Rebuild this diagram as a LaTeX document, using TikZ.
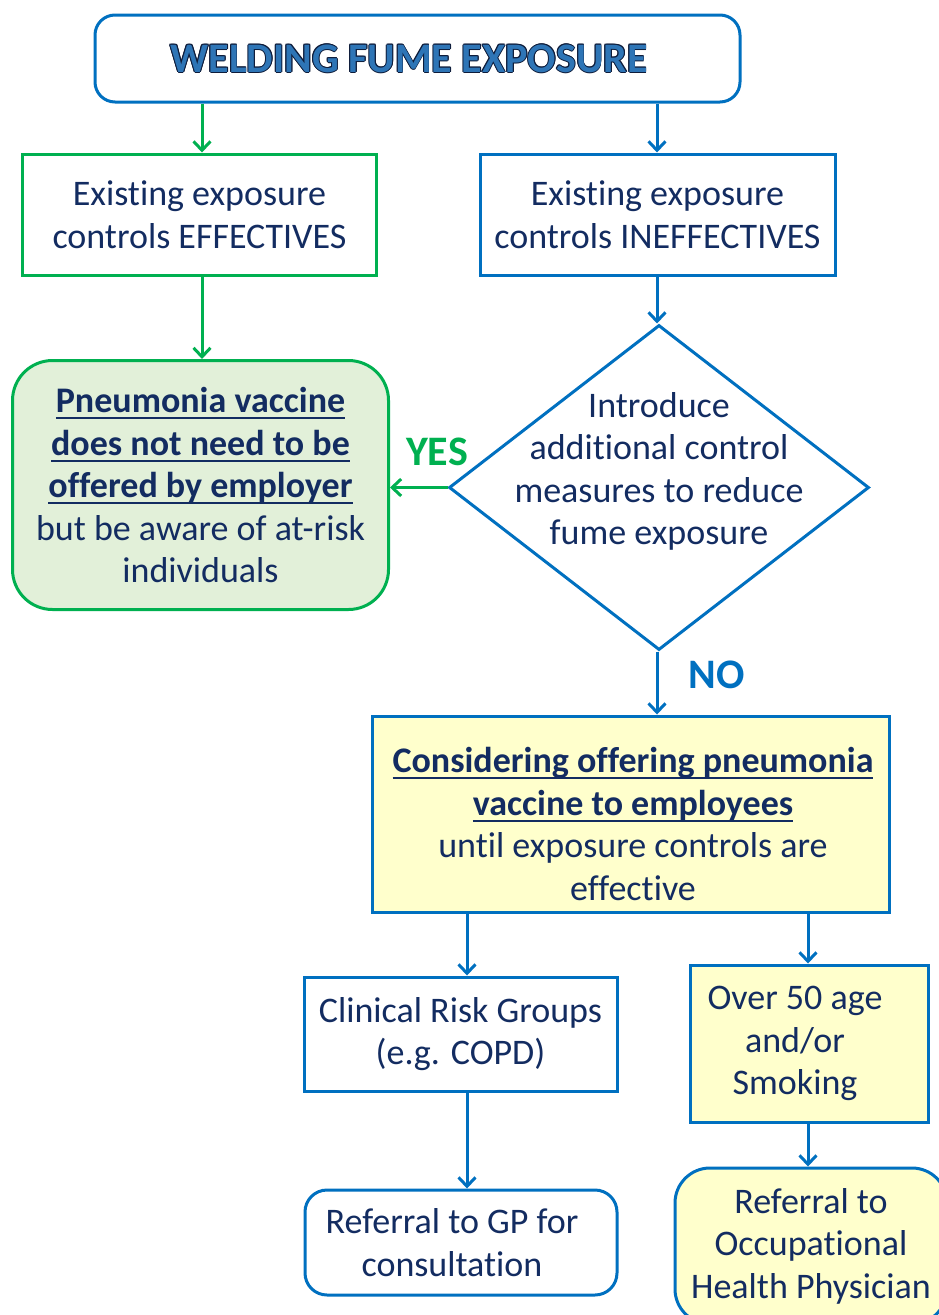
\documentclass[tikz,border=0pt]{standalone}
\usepackage{fontspec}
\setmainfont{Carlito}[Ligatures={NoCommon}]
\usetikzlibrary{shapes.geometric,arrows.meta}
\definecolor{lblue}{HTML}{0070C0}
\definecolor{lgreen}{HTML}{00B050}
\definecolor{navy}{HTML}{132C61}
\definecolor{gfill}{HTML}{E2F0D9}
\definecolor{yfill}{HTML}{FFFFCC}
\definecolor{tblue}{HTML}{2E75B6}
\definecolor{tdark}{HTML}{0E1C3A}
\newcommand{\olc}[3]{\rlap{\hspace*{#1}\raisebox{#2}{#3}}}
\newcommand{\outlined}[1]{%
\olc{.9pt}{0pt}{\color{tdark}#1}\olc{-.9pt}{0pt}{\color{tdark}#1}%
\olc{0pt}{.9pt}{\color{tdark}#1}\olc{0pt}{-.9pt}{\color{tdark}#1}%
\olc{.65pt}{.65pt}{\color{tdark}#1}\olc{-.65pt}{.65pt}{\color{tdark}#1}%
\olc{.65pt}{-.65pt}{\color{tdark}#1}\olc{-.65pt}{-.65pt}{\color{tdark}#1}%
{\color{tblue}#1}}
\newcommand{\uln}[1]{\setbox0\hbox{#1}\rlap{\rule[-6.5pt]{\wd0}{2pt}}\box0}
\tikzset{
  base/.style={line width=3pt, text=navy, align=center, inner sep=0pt,
    font=\fontsize{36}{42.5}\selectfont},
  bbox/.style={base, draw=lblue},
  gbox/.style={base, draw=lgreen},
  arrB/.style={line width=3pt, draw=lblue, -{Straight Barb[length=9pt,width=17pt,line width=3pt]}},
  arrG/.style={line width=3pt, draw=lgreen, -{Straight Barb[length=9pt,width=17pt,line width=3pt]}},
  lbl/.style={font=\fontsize{42}{50}\selectfont\bfseries, inner sep=0pt}
}
\begin{document}
\begin{tikzpicture}[x=1pt,y=-1pt]
\fill[white] (0,0) rectangle (939,1315);
\useasboundingbox (0,0) rectangle (939,1315);

\node[bbox, rounded corners=20pt, minimum width=645pt, minimum height=87pt] (title) at (417.5,58.5)
  {\fontsize{42}{50}\selectfont\bfseries\outlined{WELDING FUME EXPOSURE}\rule{17pt}{0pt}};

\node[gbox, minimum width=354pt, minimum height=121pt] (eff) at (199.5,214.5)
  {Existing exposure\\controls EFFECTIVES};
\node[bbox, minimum width=355pt, minimum height=121pt] (ineff) at (657.5,214.5)
  {Existing exposure\\controls INEFFECTIVES};

\node[gbox, fill=gfill, rounded corners=40pt, minimum width=376pt, minimum height=249pt] (novacc) at (200.5,485)
  {\textbf{\uln{Pneumonia vaccine}}\\\textbf{\uln{does not need to be}}\\\textbf{\uln{offered by employer}}\\but be aware of at-risk\\individuals};

\node[diamond, draw=lblue, line width=3pt, inner sep=0pt, minimum width=420pt, minimum height=325pt] (dia) at (659,487.5) {};
\node[base, yshift=16pt] (diatext) at (dia.center)
  {Introduce\\additional control\\measures to reduce\\fume exposure};

\node[lbl, text=lgreen] (yes) at (437,452) {YES};
\node[lbl, text=lblue] (no) at (717,675) {NO};

\node[bbox, fill=yfill, minimum width=517pt, minimum height=196pt] (consider) at (631,814) {};
\node[base] (considertext) at (633,824)
  {\textbf{\uln{Considering offering pneumonia}}\\\textbf{\uln{vaccine to employees}}\\until exposure controls are\\effective};

\node[bbox, minimum width=313pt, minimum height=114pt] (clin) at (460.5,1034)
  {Clinical Risk Groups\\(e.g. COPD)};
\node[bbox, fill=yfill, minimum width=238pt, minimum height=157pt] (over) at (809,1043.5)
  {Over 50 age\rule{28pt}{0pt}\\and/or\rule{28pt}{0pt}\\Smoking\rule{28pt}{0pt}};

\node[bbox, rounded corners=22pt, minimum width=312pt, minimum height=105pt] (gp) at (461,1242.5)
  {Referral to GP for\rule{18pt}{0pt}\\consultation\rule{18pt}{0pt}};
\node[bbox, fill=yfill, rounded corners=35pt, minimum width=272pt, minimum height=156pt] (ohp) at (811,1246)
  {Referral to\\Occupational\\Health Physician};

\coordinate (cL) at (202,0);
\coordinate (cR) at (657,0);
\coordinate (cC) at (467,0);
\coordinate (cO) at (808,0);

\draw[arrG] (title.south -| cL) -- (eff.north -| cL);
\draw[arrB] (title.south -| cR) -- (ineff.north -| cR);
\draw[arrG] (eff.south -| cL) -- (novacc.north -| cL);
\draw[arrB] (ineff.south -| cR) -- (dia.north -| cR);
\draw[arrG] (dia.west) -- (novacc.east |- dia.west);
\draw[arrB] (dia.south -| cR) -- (consider.north -| cR);
\draw[arrB] (consider.south -| cC) -- (clin.north -| cC);
\draw[arrB] (consider.south -| cO) -- (over.north -| cO);
\draw[arrB] (clin.south -| cC) -- (gp.north -| cC);
\draw[arrB] (over.south -| cO) -- (ohp.north -| cO);
\end{tikzpicture}
\end{document}
